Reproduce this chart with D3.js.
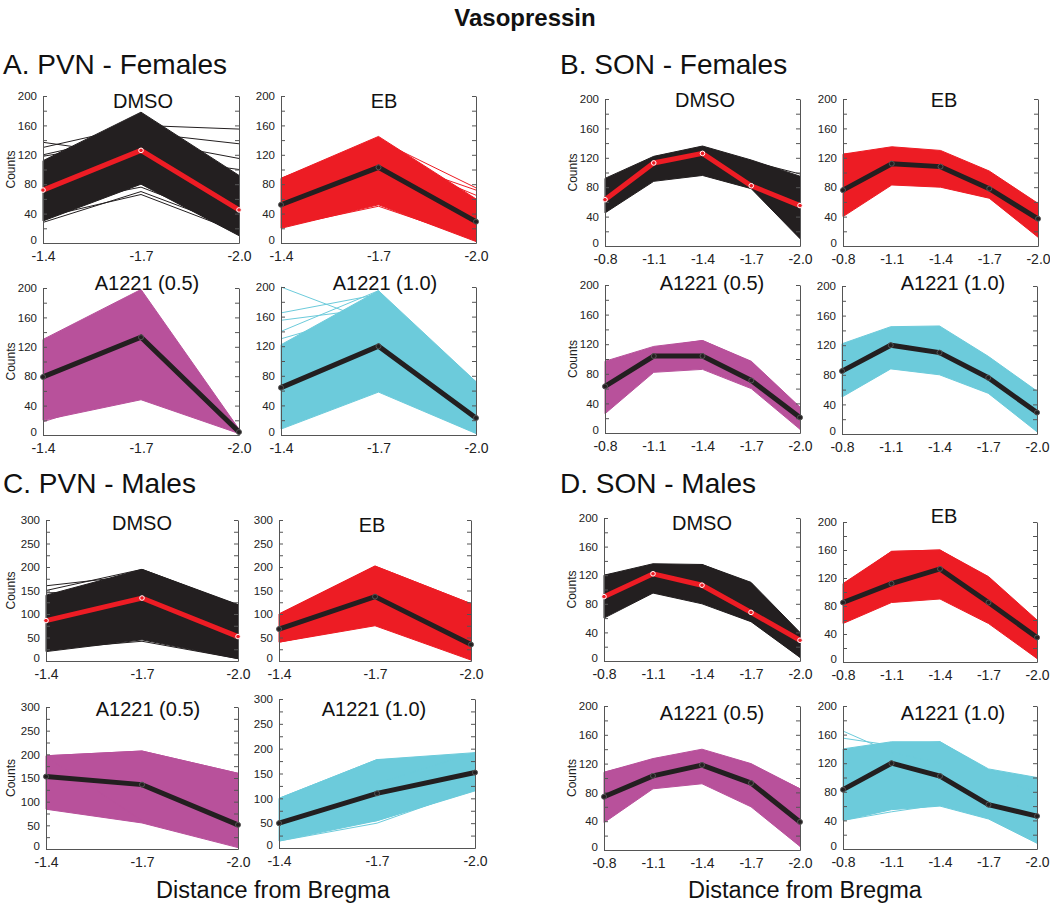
<!DOCTYPE html>
<html><head><meta charset="utf-8">
<script src="https://cdn.jsdelivr.net/npm/d3@7"></script>
<style>body{margin:0;background:#fff}svg{display:block}text{font-family:Arial,"Liberation Sans",sans-serif}</style>
</head><body>
<svg id="c" width="1050" height="908"></svg>
<script>
// ---------- data ----------
const bregma3 = ["-1.4", "-1.7", "-2.0"];
const bregma5 = ["-0.8", "-1.1", "-1.4", "-1.7", "-2.0"];
const yTicks200 = [0, 40, 80, 120, 160, 200];
const yTicks300 = [0, 50, 100, 150, 200, 250, 300];
const sectionTitles = ["A. PVN - Females", "B. SON - Females", "C. PVN - Males", "D. SON - Males"];
const groupNames = ["DMSO", "EB", "A1221 (0.5)", "A1221 (1.0)"];

// A. PVN - Females
const pvnFDmsoMean = [72, 126, 45];
const pvnFDmsoLo = [30, 80, 10];
const pvnFDmsoHi = [112, 178, 92];
const pvnFDmsoOut = [[137, 118, 100], [130, 160, 155], [120, 150, 135], [118, 140, 115], [28, 70, 20], [35, 66, 15], [50, 76, 25]];
const pvnFEbMean = [52, 103, 29];
const pvnFEbLo = [20, 52, 2];
const pvnFEbHi = [88, 145, 60];
const pvnFEbOut = [[88, 140, 75], [85, 118, 72], [80, 120, 65], [22, 50, 5], [45, 60, 10]];
const pvnFA05Mean = [79, 133, 4];
const pvnFA05Lo = [20, 48, 2];
const pvnFA05Hi = [130, 198, 8];
const pvnFA05Out = [[130, 145, 6], [125, 150, 5], [18, 60, 3]];
const pvnFA10Mean = [64, 120, 23];
const pvnFA10Lo = [8, 58, 2];
const pvnFA10Hi = [122, 195, 72];
const pvnFA10Out = [[200, 150, 60], [165, 190, 72], [155, 172, 70], [140, 195, 55], [130, 168, 58], [10, 60, 3]];

// B. SON - Females
const sonFDmsoMean = [63, 113, 126, 82, 55];
const sonFDmsoLo = [45, 88, 96, 78, 10];
const sonFDmsoHi = [92, 122, 136, 117, 95];
const sonFDmsoOut = [[90, 120, 130, 115, 98], [48, 90, 98, 80, 12]];
const sonFEbMean = [76, 112, 108, 78, 37];
const sonFEbLo = [40, 83, 80, 65, 12];
const sonFEbHi = [125, 135, 130, 102, 58];
const sonFEbOut = [[125, 130, 128, 100, 55], [42, 85, 82, 66, 14]];
const sonFA05Mean = [63, 104, 104, 71, 21];
const sonFA05Lo = [26, 82, 86, 60, 5];
const sonFA05Hi = [97, 117, 125, 97, 35];
const sonFA05Out = [[95, 115, 125, 96, 33]];
const sonFA10Mean = [85, 120, 110, 76, 29];
const sonFA10Lo = [50, 88, 80, 55, 3];
const sonFA10Hi = [122, 145, 146, 105, 58];
const sonFA10Out = [[122, 110, 140, 100, 55], [52, 90, 82, 56, 5]];

// C. PVN - Males
const pvnMDmsoMean = [86, 134, 52];
const pvnMDmsoLo = [20, 45, 5];
const pvnMDmsoHi = [140, 195, 120];
const pvnMDmsoOut = [[160, 183, 120], [150, 195, 118], [145, 150, 110], [22, 60, 8], [25, 42, 5], [35, 55, 10]];
const pvnMEbMean = [68, 137, 35];
const pvnMEbLo = [40, 75, 2];
const pvnMEbHi = [100, 202, 122];
const pvnMEbOut = [[100, 202, 122], [95, 180, 120], [98, 170, 100], [40, 80, 5]];
const pvnMA05Mean = [153, 136, 51];
const pvnMA05Lo = [84, 55, 3];
const pvnMA05Hi = [197, 207, 160];
const pvnMA05Out = [[197, 207, 160], [84, 85, 155], [195, 60, 8], [100, 65, 130]];
const pvnMA10Mean = [50, 110, 152];
const pvnMA10Lo = [14, 55, 115];
const pvnMA10Hi = [100, 178, 192];
const pvnMA10Out = [[100, 178, 175], [100, 130, 192], [14, 50, 120], [30, 55, 118]];

// D. SON - Males
const sonMDmsoMean = [90, 122, 106, 68, 29];
const sonMDmsoLo = [60, 95, 80, 55, 5];
const sonMDmsoHi = [120, 136, 135, 110, 40];
const sonMDmsoOut = [[120, 130, 135, 108, 38], [62, 96, 82, 56, 6]];
const sonMEbMean = [85, 112, 133, 85, 35];
const sonMEbLo = [55, 85, 90, 55, 5];
const sonMEbHi = [112, 158, 160, 122, 60];
const sonMEbOut = [[110, 158, 160, 120, 58], [58, 90, 92, 58, 6]];
const sonMA05Mean = [74, 103, 118, 93, 39];
const sonMA05Lo = [38, 85, 92, 60, 5];
const sonMA05Hi = [108, 127, 140, 120, 85];
const sonMA05Out = [[108, 125, 138, 118, 85]];
const sonMA10Mean = [83, 120, 102, 62, 46];
const sonMA10Lo = [40, 55, 60, 42, 8];
const sonMA10Hi = [140, 150, 150, 112, 100];
const sonMA10Out = [[165, 135, 120, 100, 80], [155, 145, 150, 110, 95], [40, 52, 62, 45, 15]];

// ---------- layout / styles ----------
const colBlack = "#231f20", colRed = "#ed1c24", colPurple = "#b8519b", colCyan = "#6ccbdb";
const panels = [
  {sec:0,g:0,x:bregma3,yt:yTicks200,mean:pvnFDmsoMean,lo:pvnFDmsoLo,hi:pvnFDmsoHi,out:pvnFDmsoOut,box:[43,239,96,243],tt:[143,108],counts:32},
  {sec:0,g:1,x:bregma3,yt:yTicks200,mean:pvnFEbMean,lo:pvnFEbLo,hi:pvnFEbHi,out:pvnFEbOut,box:[281,476,96,243],tt:[384,108]},
  {sec:0,g:2,x:bregma3,yt:yTicks200,mean:pvnFA05Mean,lo:pvnFA05Lo,hi:pvnFA05Hi,out:pvnFA05Out,box:[43,239,288,435],tt:[147,290],counts:32},
  {sec:0,g:3,x:bregma3,yt:yTicks200,mean:pvnFA10Mean,lo:pvnFA10Lo,hi:pvnFA10Hi,out:pvnFA10Out,box:[281,476,287,435],tt:[385,290]},
  {sec:1,g:0,x:bregma5,yt:yTicks200,mean:sonFDmsoMean,lo:sonFDmsoLo,hi:sonFDmsoHi,out:sonFDmsoOut,box:[605,800,99,246],tt:[705,107],counts:32},
  {sec:1,g:1,x:bregma5,yt:yTicks200,mean:sonFEbMean,lo:sonFEbLo,hi:sonFEbHi,out:sonFEbOut,box:[843,1038,99,246],tt:[944,107]},
  {sec:1,g:2,x:bregma5,yt:yTicks200,mean:sonFA05Mean,lo:sonFA05Lo,hi:sonFA05Hi,out:sonFA05Out,box:[605,800,285,433],tt:[712,290],counts:32},
  {sec:1,g:3,x:bregma5,yt:yTicks200,mean:sonFA10Mean,lo:sonFA10Lo,hi:sonFA10Hi,out:sonFA10Out,box:[842,1037,286,434],tt:[953,290]},
  {sec:2,g:0,x:bregma3,yt:yTicks300,mean:pvnMDmsoMean,lo:pvnMDmsoLo,hi:pvnMDmsoHi,out:pvnMDmsoOut,box:[46,238,520,661],tt:[142,530],counts:35},
  {sec:2,g:1,x:bregma3,yt:yTicks300,mean:pvnMEbMean,lo:pvnMEbLo,hi:pvnMEbHi,out:pvnMEbOut,box:[279,471,520,661],tt:[372,532]},
  {sec:2,g:2,x:bregma3,yt:yTicks300,mean:pvnMA05Mean,lo:pvnMA05Lo,hi:pvnMA05Hi,out:pvnMA05Out,box:[46,238,707,849],tt:[148,716],counts:35},
  {sec:2,g:3,x:bregma3,yt:yTicks300,mean:pvnMA10Mean,lo:pvnMA10Lo,hi:pvnMA10Hi,out:pvnMA10Out,box:[279,475,699,848],tt:[374,716]},
  {sec:3,g:0,x:bregma5,yt:yTicks200,mean:sonMDmsoMean,lo:sonMDmsoLo,hi:sonMDmsoHi,out:sonMDmsoOut,box:[604,800,518,661],tt:[702,530],counts:32},
  {sec:3,g:1,x:bregma5,yt:yTicks200,mean:sonMEbMean,lo:sonMEbLo,hi:sonMEbHi,out:sonMEbOut,box:[843,1037,522,662],tt:[944,523]},
  {sec:3,g:2,x:bregma5,yt:yTicks200,mean:sonMA05Mean,lo:sonMA05Lo,hi:sonMA05Hi,out:sonMA05Out,box:[604,800,706,850],tt:[712,720],counts:32},
  {sec:3,g:3,x:bregma5,yt:yTicks200,mean:sonMA10Mean,lo:sonMA10Lo,hi:sonMA10Hi,out:sonMA10Out,box:[843,1037,706,849],tt:[953,720]}
];
const bundleColor = [colBlack, colRed, colPurple, colCyan];
const sectionPos = [[3,74],[560,74],[3,493],[560,493]];

const svg = d3.select("#c");
svg.append("text").attr("x",525).attr("y",26).attr("text-anchor","middle")
  .attr("font-size",24).attr("font-weight","bold").attr("fill","#111").text("Vasopressin");
sectionTitles.forEach((t,i)=>svg.append("text").attr("x",sectionPos[i][0]).attr("y",sectionPos[i][1])
  .attr("font-size",28).attr("fill","#111").text(t));
[[273,898],[805,898]].forEach(p=>svg.append("text").attr("x",p[0]).attr("y",p[1]).attr("text-anchor","middle")
  .attr("font-size",23.5).attr("fill","#111").text("Distance from Bregma"));

panels.forEach(p=>{
  const [l,r,t,b] = p.box;
  const ymax = p.yt[p.yt.length-1];
  const step = p.yt[1]/2;
  const x = d3.scalePoint().domain(p.x).range([l,r]);
  const y = d3.scaleLinear().domain([0,ymax]).range([b,t]);
  const g = svg.append("g");
  const col = bundleColor[p.g];
  const band = d3.area().x((d,i)=>x(p.x[i])).y0((d,i)=>y(p.lo[i])).y1((d,i)=>y(p.hi[i]));
  g.append("path").datum(p.mean).attr("d",band).attr("fill",col).attr("stroke",col).attr("stroke-width",1);
  const line = d3.line().x((d,i)=>x(p.x[i])).y(d=>y(d));
  p.out.forEach(o=>g.append("path").datum(o).attr("d",line).attr("fill","none").attr("stroke",col).attr("stroke-width",1));
  // axes
  const minor = d3.range(0, ymax+0.1, step);
  const fmt = v => p.yt.includes(v) ? String(v) : "";
  const ax = g.append("g").attr("transform",`translate(${l},0)`)
    .call(d3.axisLeft(y).tickValues(minor).tickFormat(fmt).tickSizeInner(-4).tickSizeOuter(0).tickPadding(6));
  const axr = g.append("g").attr("transform",`translate(${r},0)`)
    .call(d3.axisRight(y).tickValues(minor).tickFormat("").tickSizeInner(-4).tickSizeOuter(0));
  const axb = g.append("g").attr("transform",`translate(0,${b})`)
    .call(d3.axisBottom(x).tickSize(0).tickPadding(8));
  [ax,axr,axb].forEach(a=>{a.select(".domain").attr("stroke","#555");a.selectAll("line").attr("stroke","#555");
    a.selectAll("text").attr("fill","#222").attr("font-family","Arial, 'Liberation Sans', sans-serif");});
  ax.selectAll("text").attr("font-size",11.5);
  ax.selectAll(".tick").filter(d=>d===0).select("text").attr("dy","0.05em");
  axb.selectAll("text").attr("font-size",14);
  // mean line
  const isD = p.g===0;
  const mc = isD ? colRed : colBlack;
  g.append("path").datum(p.mean).attr("d",line).attr("fill","none").attr("stroke",mc).attr("stroke-width",5).attr("stroke-linejoin","miter");
  if(isD){
    g.selectAll("circle.m").data(p.mean).enter().append("circle")
      .attr("cx",(d,i)=>x(p.x[i])).attr("cy",d=>y(d)).attr("r",2.3)
      .attr("fill",colRed).attr("stroke","#fff").attr("stroke-width",1);
  } else {
    g.selectAll("circle.m").data(p.mean).enter().append("circle")
      .attr("cx",(d,i)=>x(p.x[i])).attr("cy",d=>y(d)).attr("r",2.5)
      .attr("fill",colBlack).attr("stroke","#555").attr("stroke-width",1);
  }
  g.append("text").attr("x",p.tt[0]).attr("y",p.tt[1]).attr("text-anchor","middle")
    .attr("font-size",20).attr("fill","#111").text(groupNames[p.g]);
  if(p.counts){
    g.append("text").attr("transform",`translate(${l-p.counts+4},${(t+b)/2}) rotate(-90)`).attr("text-anchor","middle")
      .attr("font-size",12).attr("fill","#222").text("Counts");
  }
});
</script>
</body></html>
